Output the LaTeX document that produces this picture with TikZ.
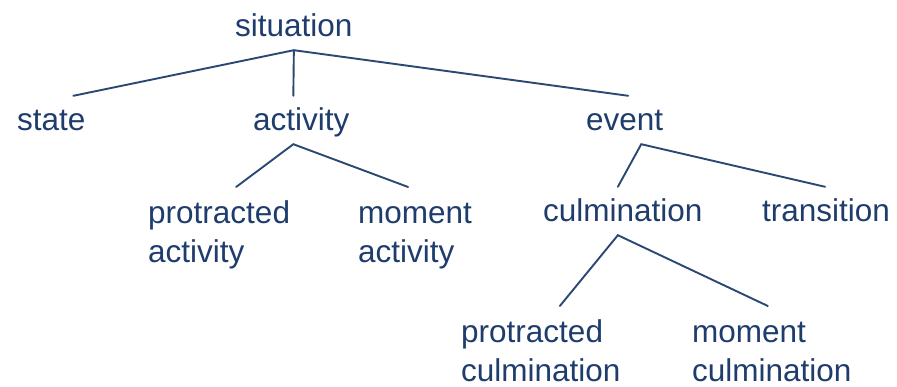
\documentclass[tikz,border=0pt]{standalone}
\usepackage{fontspec}
\setmainfont{Liberation Sans}
\usetikzlibrary{positioning}
\definecolor{treeInk}{RGB}{30,60,108}
\definecolor{treeLine}{RGB}{42,72,115}

\begin{document}
\begin{tikzpicture}[x=1pt,y=-1pt,
  word/.style={font=\fontsize{31.5}{39}\selectfont,text=treeInk,inner xsep=0pt,inner ysep=13pt,
               text height=22pt,text depth=0pt,anchor=base west},
  words/.style={font=\fontsize{31.5}{39}\selectfont,text=treeInk,inner xsep=0pt,inner ysep=13pt,
                align=left,anchor=north west},
  branch/.style={draw=treeLine,line width=1.9pt,line cap=round}]
  \useasboundingbox (0,0) rectangle (897,387);
  % top level
  \node[word] (sit) at (235,37) {situation};
  \node[word] (state) at (17,131) {state};
  \node[word] (act) at (253,131) {activity};
  \node[word] (evt) at (586,131) {event};
  % below activity and event
  \node[words] (protAct) at (148,187) {protracted\\activity};
  \node[words] (momAct) at (358,187) {moment\vphantom{d}\\activity};
  \node[word] (culm) at (543,222) {culmination};
  \node[word] (trans) at (762,222) {transition};
  % below culmination
  \node[words] (protCulm) at (461,306) {protracted\\culmination};
  \node[words] (momCulm) at (692,306) {moment\vphantom{d}\\culmination};
  % branches
  \draw[branch] ([xshift=22pt]state.north) -- (sit.south) -- ([xshift=3.5pt]evt.north);
  \draw[branch] (sit.south) -- ([xshift=-8pt]act.north);
  \draw[branch] ([xshift=17pt]protAct.north) -- ([xshift=-8pt]act.south) -- ([xshift=-7pt]momAct.north);
  \draw[branch] ([xshift=-5pt]culm.north) -- ([xshift=16.5pt]evt.south) -- ([xshift=-1pt]trans.north);
  \draw[branch] ([xshift=19pt]protCulm.north) -- ([xshift=-5pt]culm.south) -- ([xshift=-4pt]momCulm.north);
\end{tikzpicture}
\end{document}
